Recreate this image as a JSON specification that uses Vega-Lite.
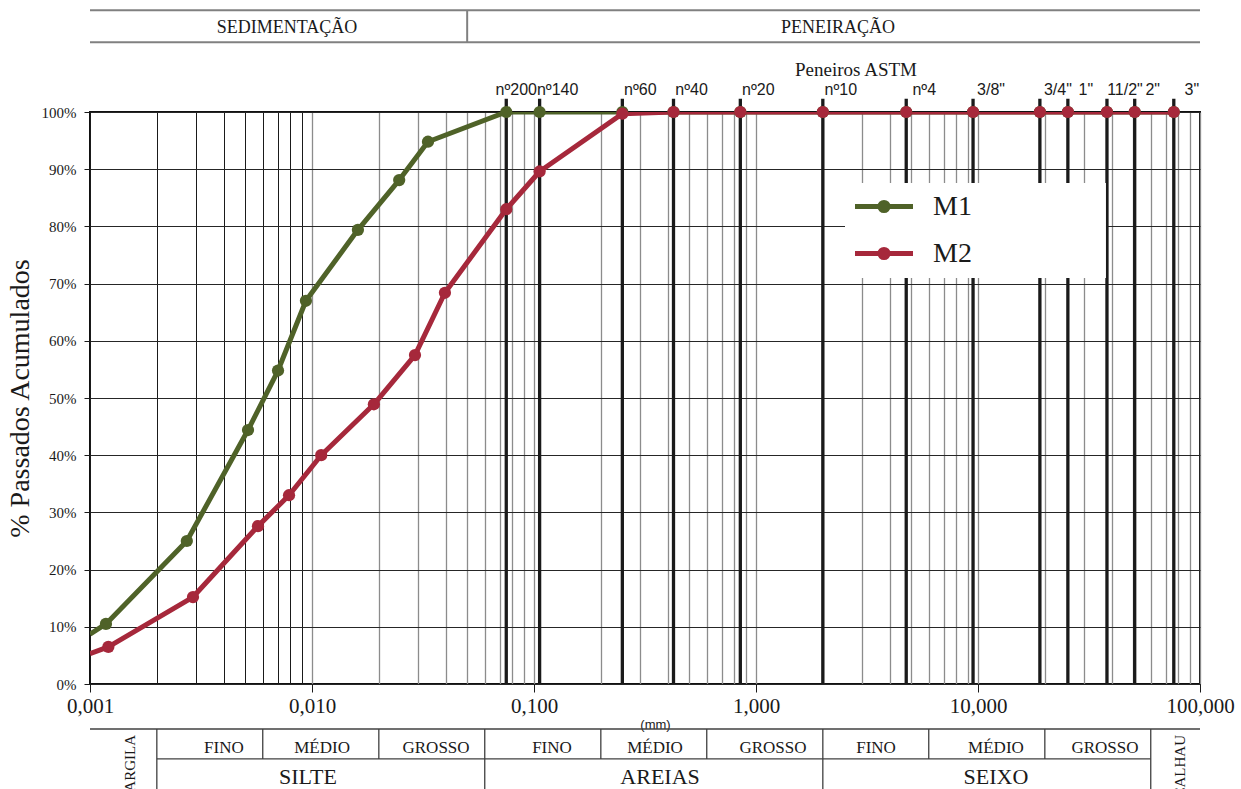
{
  "$schema": "https://vega.github.io/schema/vega-lite/v6.json",
  "width": 1110,
  "height": 572,
  "autosize": {"type": "none"},
  "padding": {"left": 90, "top": 112, "right": 41, "bottom": 105},
  "background": "white",
  "config": {
    "view": {"stroke": "#111111", "strokeWidth": 2},
    "font": "Liberation Serif"
  },
  "datasets": {
    "curvas": [
      {"amostra": "M1", "d": 0.001, "p": 8.7},
      {"amostra": "M1", "d": 0.00118, "p": 10.5},
      {"amostra": "M1", "d": 0.00273, "p": 25.0},
      {"amostra": "M1", "d": 0.00515, "p": 44.4},
      {"amostra": "M1", "d": 0.00703, "p": 54.8},
      {"amostra": "M1", "d": 0.00939, "p": 67.0},
      {"amostra": "M1", "d": 0.0161, "p": 79.4},
      {"amostra": "M1", "d": 0.0247, "p": 88.1},
      {"amostra": "M1", "d": 0.0333, "p": 94.8},
      {"amostra": "M1", "d": 0.075, "p": 100},
      {"amostra": "M1", "d": 0.106, "p": 100},
      {"amostra": "M1", "d": 0.25, "p": 100},
      {"amostra": "M1", "d": 0.425, "p": 100},
      {"amostra": "M1", "d": 0.85, "p": 100},
      {"amostra": "M1", "d": 2.0, "p": 100},
      {"amostra": "M1", "d": 4.75, "p": 100},
      {"amostra": "M1", "d": 9.5, "p": 100},
      {"amostra": "M1", "d": 19.0, "p": 100},
      {"amostra": "M1", "d": 25.4, "p": 100},
      {"amostra": "M1", "d": 38.1, "p": 100},
      {"amostra": "M1", "d": 50.8, "p": 100},
      {"amostra": "M1", "d": 76.2, "p": 100},
      {"amostra": "M2", "d": 0.001, "p": 5.3},
      {"amostra": "M2", "d": 0.00121, "p": 6.5},
      {"amostra": "M2", "d": 0.00291, "p": 15.2},
      {"amostra": "M2", "d": 0.00571, "p": 27.6},
      {"amostra": "M2", "d": 0.00788, "p": 33.0},
      {"amostra": "M2", "d": 0.0110, "p": 40.0},
      {"amostra": "M2", "d": 0.0190, "p": 48.9},
      {"amostra": "M2", "d": 0.0291, "p": 57.5},
      {"amostra": "M2", "d": 0.0397, "p": 68.4},
      {"amostra": "M2", "d": 0.075, "p": 83.0},
      {"amostra": "M2", "d": 0.106, "p": 89.6},
      {"amostra": "M2", "d": 0.25, "p": 99.7},
      {"amostra": "M2", "d": 0.425, "p": 100},
      {"amostra": "M2", "d": 0.85, "p": 100},
      {"amostra": "M2", "d": 2.0, "p": 100},
      {"amostra": "M2", "d": 4.75, "p": 100},
      {"amostra": "M2", "d": 9.5, "p": 100},
      {"amostra": "M2", "d": 19.0, "p": 100},
      {"amostra": "M2", "d": 25.4, "p": 100},
      {"amostra": "M2", "d": 38.1, "p": 100},
      {"amostra": "M2", "d": 50.8, "p": 100},
      {"amostra": "M2", "d": 76.2, "p": 100}
    ],
    "peneiros": [
      {"d": 0.075, "nome": "nº200"},
      {"d": 0.106, "nome": "nº140"},
      {"d": 0.25, "nome": "nº60"},
      {"d": 0.425, "nome": "nº40"},
      {"d": 0.85, "nome": "nº20"},
      {"d": 2.0, "nome": "nº10"},
      {"d": 4.75, "nome": "nº4"},
      {"d": 9.5, "nome": "3/8\""},
      {"d": 19.0, "nome": "3/4\""},
      {"d": 25.4, "nome": "1\""},
      {"d": 38.1, "nome": "11/2\""},
      {"d": 50.8, "nome": "2\""},
      {"d": 76.2, "nome": "3\""}
    ],
    "linhas": [
      {"g": "h", "d": 0.001, "d2": 100, "p": 117.8, "p2": 117.8},
      {"g": "h", "d": 0.001, "d2": 100, "p": 112.2, "p2": 112.2},
      {"g": "h", "d": 0.05, "d2": 0.05, "p": 112.2, "p2": 117.8},
      {"g": "t", "d": 0.001, "d2": 100, "p": -7.87, "p2": -7.87},
      {"g": "t", "d": 0.002, "d2": 60, "p": -13.1, "p2": -13.1},
      {"g": "t", "d": 0.002, "d2": 0.002, "p": -7.87, "p2": -25},
      {"g": "t", "d": 0.06, "d2": 0.06, "p": -7.87, "p2": -25},
      {"g": "t", "d": 2, "d2": 2, "p": -7.87, "p2": -25},
      {"g": "t", "d": 60, "d2": 60, "p": -7.87, "p2": -25},
      {"g": "t", "d": 0.006, "d2": 0.006, "p": -7.87, "p2": -13.1},
      {"g": "t", "d": 0.02, "d2": 0.02, "p": -7.87, "p2": -13.1},
      {"g": "t", "d": 0.2, "d2": 0.2, "p": -7.87, "p2": -13.1},
      {"g": "t", "d": 0.6, "d2": 0.6, "p": -7.87, "p2": -13.1},
      {"g": "t", "d": 6, "d2": 6, "p": -7.87, "p2": -13.1},
      {"g": "t", "d": 20, "d2": 20, "p": -7.87, "p2": -13.1}
    ],
    "rotulos": [
      {"grp": "cab", "txt": "SEDIMENTAÇÃO", "d": 0.00771, "p": 114.7},
      {"grp": "cab", "txt": "PENEIRAÇÃO", "d": 2.34, "p": 114.7},
      {"grp": "pen", "txt": "Peneiros ASTM", "d": 2.822, "p": 107.3},
      {"grp": "l1", "txt": "FINO", "d": 0.00401, "p": -11.19},
      {"grp": "l1", "txt": "MÉDIO", "d": 0.0111, "p": -11.19},
      {"grp": "l1", "txt": "GROSSO", "d": 0.0362, "p": -11.19},
      {"grp": "l1", "txt": "FINO", "d": 0.1205, "p": -11.19},
      {"grp": "l1", "txt": "MÉDIO", "d": 0.3508, "p": -11.19},
      {"grp": "l1", "txt": "GROSSO", "d": 1.193, "p": -11.19},
      {"grp": "l1", "txt": "FINO", "d": 3.472, "p": -11.19},
      {"grp": "l1", "txt": "MÉDIO", "d": 12.05, "p": -11.19},
      {"grp": "l1", "txt": "GROSSO", "d": 37.33, "p": -11.19},
      {"grp": "l2", "txt": "SILTE", "d": 0.00959, "p": -16.26},
      {"grp": "l2", "txt": "AREIAS", "d": 0.3696, "p": -16.26},
      {"grp": "l2", "txt": "SEIXO", "d": 12.05, "p": -16.26},
      {"grp": "rot", "txt": "ARGILA", "d": 0.00151, "p": -8.92},
      {"grp": "rot", "txt": "CALHAU", "d": 81.3, "p": -8.92}
    ],
    "caixa": [{"d": 2.517, "d2": 37.7, "p": 71.0, "p2": 87.6}]
  },
  "layer": [
    {
      "data": {"name": "peneiros"},
      "mark": {"type": "rule", "clip": false, "strokeWidth": 3.3, "color": "#1a1a1a"},
      "encoding": {
        "x": {"field": "d", "type": "quantitative", "scale": {"type": "log", "domain": [0.001, 100], "nice": false}},
        "y": {"datum": 0, "type": "quantitative", "scale": {"domain": [0, 100], "nice": false, "zero": false}},
        "y2": {"datum": 102.3}
      }
    },
    {
      "data": {"name": "caixa"},
      "mark": {"type": "rect", "fill": "white", "clip": false},
      "encoding": {
        "x": {"field": "d", "type": "quantitative", "scale": {"type": "log", "domain": [0.001, 100], "nice": false}},
        "x2": {"field": "d2"},
        "y": {"field": "p", "type": "quantitative", "scale": {"domain": [0, 100], "nice": false, "zero": false}},
        "y2": {"field": "p2"}
      }
    },
    {
      "data": {"name": "linhas"},
      "transform": [{"filter": "datum.g == 'h'"}],
      "mark": {"type": "rule", "clip": false, "strokeWidth": 2, "color": "#808080"},
      "encoding": {
        "x": {"field": "d", "type": "quantitative", "scale": {"type": "log", "domain": [0.001, 100], "nice": false}},
        "x2": {"field": "d2"},
        "y": {"field": "p", "type": "quantitative", "scale": {"domain": [0, 100], "nice": false, "zero": false}},
        "y2": {"field": "p2"}
      }
    },
    {
      "data": {"name": "linhas"},
      "transform": [{"filter": "datum.g == 't'"}],
      "mark": {"type": "rule", "clip": false, "strokeWidth": 1.3, "color": "#404040"},
      "encoding": {
        "x": {"field": "d", "type": "quantitative", "scale": {"type": "log", "domain": [0.001, 100], "nice": false}},
        "x2": {"field": "d2"},
        "y": {"field": "p", "type": "quantitative", "scale": {"domain": [0, 100], "nice": false, "zero": false}},
        "y2": {"field": "p2"}
      }
    },
    {
      "data": {"name": "rotulos"},
      "transform": [{"filter": "datum.grp == 'cab'"}],
      "mark": {"type": "text", "clip": false, "font": "Liberation Serif", "fontSize": 18, "baseline": "middle", "align": "center", "color": "#1a1a1a"},
      "encoding": {
        "x": {"field": "d", "type": "quantitative", "scale": {"type": "log", "domain": [0.001, 100], "nice": false}},
        "y": {"field": "p", "type": "quantitative", "scale": {"domain": [0, 100], "nice": false, "zero": false}},
        "text": {"field": "txt"}
      }
    },
    {
      "data": {"name": "rotulos"},
      "transform": [{"filter": "datum.grp == 'pen'"}],
      "mark": {"type": "text", "clip": false, "font": "Liberation Serif", "fontSize": 19, "baseline": "middle", "align": "center", "color": "#1a1a1a"},
      "encoding": {
        "x": {"field": "d", "type": "quantitative", "scale": {"type": "log", "domain": [0.001, 100], "nice": false}},
        "y": {"field": "p", "type": "quantitative", "scale": {"domain": [0, 100], "nice": false, "zero": false}},
        "text": {"field": "txt"}
      }
    },
    {
      "data": {"name": "rotulos"},
      "transform": [{"filter": "datum.grp == 'l1'"}],
      "mark": {"type": "text", "clip": false, "font": "Liberation Serif", "fontSize": 17, "baseline": "middle", "align": "center", "color": "#1a1a1a"},
      "encoding": {
        "x": {"field": "d", "type": "quantitative", "scale": {"type": "log", "domain": [0.001, 100], "nice": false}},
        "y": {"field": "p", "type": "quantitative", "scale": {"domain": [0, 100], "nice": false, "zero": false}},
        "text": {"field": "txt"}
      }
    },
    {
      "data": {"name": "rotulos"},
      "transform": [{"filter": "datum.grp == 'l2'"}],
      "mark": {"type": "text", "clip": false, "font": "Liberation Serif", "fontSize": 22, "baseline": "middle", "align": "center", "color": "#1a1a1a"},
      "encoding": {
        "x": {"field": "d", "type": "quantitative", "scale": {"type": "log", "domain": [0.001, 100], "nice": false}},
        "y": {"field": "p", "type": "quantitative", "scale": {"domain": [0, 100], "nice": false, "zero": false}},
        "text": {"field": "txt"}
      }
    },
    {
      "data": {"name": "rotulos"},
      "transform": [{"filter": "datum.grp == 'rot'"}],
      "mark": {"type": "text", "clip": false, "font": "Liberation Serif", "fontSize": 15, "baseline": "middle", "align": "right", "angle": 270, "color": "#1a1a1a"},
      "encoding": {
        "x": {"field": "d", "type": "quantitative", "scale": {"type": "log", "domain": [0.001, 100], "nice": false}},
        "y": {"field": "p", "type": "quantitative", "scale": {"domain": [0, 100], "nice": false, "zero": false}},
        "text": {"field": "txt"}
      }
    },
    {
      "data": {"name": "peneiros"},
      "transform": [{"filter": "datum.d == 0.075"}],
      "mark": {"type": "text", "clip": false, "font": "Liberation Sans", "fontSize": 16, "baseline": "middle", "align": "center", "dx": 10, "color": "#1a1a1a"},
      "encoding": {
        "x": {"field": "d", "type": "quantitative", "scale": {"type": "log", "domain": [0.001, 100], "nice": false}},
        "y": {"datum": 103.8, "type": "quantitative", "scale": {"domain": [0, 100], "nice": false, "zero": false}},
        "text": {"field": "nome"}
      }
    },
    {
      "data": {"name": "peneiros"},
      "transform": [{"filter": "datum.d != 0.075"}],
      "mark": {"type": "text", "clip": false, "font": "Liberation Sans", "fontSize": 16, "baseline": "middle", "align": "center", "dx": 18, "color": "#1a1a1a"},
      "encoding": {
        "x": {"field": "d", "type": "quantitative", "scale": {"type": "log", "domain": [0.001, 100], "nice": false}},
        "y": {"datum": 103.8, "type": "quantitative", "scale": {"domain": [0, 100], "nice": false, "zero": false}},
        "text": {"field": "nome"}
      }
    },
    {
      "data": {"name": "curvas"},
      "mark": {"type": "line", "strokeWidth": 5, "strokeJoin": "round", "clip": true},
      "encoding": {
        "x": {
          "field": "d",
          "type": "quantitative",
          "scale": {"type": "log", "domain": [0.001, 100], "nice": false},
          "axis": {
            "title": "(mm)",
            "titleFont": "Liberation Sans",
            "titleFontSize": 13,
            "titleFontWeight": "normal",
            "titleColor": "#1a1a1a",
            "titlePadding": 2,
            "titleX": 565,
            "values": [0.001, 0.002, 0.003, 0.004, 0.005, 0.006, 0.007, 0.008, 0.009, 0.01, 0.02, 0.03, 0.04, 0.05, 0.06, 0.07, 0.08, 0.09, 0.1, 0.2, 0.3, 0.4, 0.5, 0.6, 0.7, 0.8, 0.9, 1, 2, 3, 4, 5, 6, 7, 8, 9, 10, 20, 30, 40, 50, 60, 70, 80, 90, 100],
            "labelExpr": "abs(log(datum.value)/LN10 - round(log(datum.value)/LN10)) < 0.001 ? replace(format(datum.value, '.3f'), '.', ',') : ''",
            "labelFont": "Liberation Serif",
            "labelFontSize": 21,
            "labelColor": "#1a1a1a",
            "labelPadding": 3,
            "labelOverlap": false,
            "labelFlush": false,
            "labelBound": false,
            "tickSize": 8,
            "tickColor": "#1a1a1a",
            "tickOpacity": {"condition": {"test": "abs(log(datum.value)/LN10 - round(log(datum.value)/LN10)) < 0.001", "value": 1}, "value": 0},
            "domain": false,
            "grid": true,
            "gridColor": {"condition": {"test": "datum.value < 0.0095", "value": "#1a1a1a"}, "value": "#8c8c8c"},
            "gridWidth": {"condition": {"test": "datum.value < 0.0095", "value": 1}, "value": 1.3}
          }
        },
        "y": {
          "field": "p",
          "type": "quantitative",
          "scale": {"domain": [0, 100], "nice": false, "zero": false},
          "axis": {
            "title": "% Passados Acumulados",
            "titleFont": "Liberation Serif",
            "titleFontSize": 28,
            "titleFontWeight": "normal",
            "titleColor": "#1a1a1a",
            "titlePadding": 7,
            "values": [0, 10, 20, 30, 40, 50, 60, 70, 80, 90, 100],
            "labelExpr": "datum.value + '%'",
            "labelFont": "Liberation Serif",
            "labelFontSize": 15,
            "labelColor": "#1a1a1a",
            "labelPadding": 8,
            "tickSize": 6,
            "tickColor": "#1a1a1a",
            "domain": false,
            "grid": true,
            "gridColor": "#262626",
            "gridWidth": 1
          }
        },
        "color": {
          "field": "amostra",
          "type": "nominal",
          "scale": {"domain": ["M1", "M2"], "range": ["#4f6228", "#a6283b"]},
          "legend": {
            "orient": "none",
            "legendX": 777,
            "legendY": 77.5,
            "title": null,
            "padding": 0,
            "symbolType": "M-2,0L2,0M0.28,0A0.28,0.28,0,1,1,-0.28,0A0.28,0.28,0,1,1,0.28,0Z",
            "symbolSize": 841,
            "symbolStrokeWidth": 5,
            "labelFont": "Liberation Serif",
            "labelFontSize": 28,
            "labelColor": "#1a1a1a",
            "labelOffset": 32,
            "rowPadding": 15,
            "labelLimit": 300,
            "encode": {
              "symbols": {"update": {"fill": {"scale": "color", "field": "value"}, "stroke": {"scale": "color", "field": "value"}, "opacity": {"value": 1}}}
            }
          }
        },
        "order": {"field": "d", "type": "quantitative"}
      }
    },
    {
      "data": {"name": "curvas"},
      "transform": [{"filter": "datum.d > 0.0011"}],
      "mark": {"type": "point", "filled": true, "size": 150, "opacity": 1},
      "encoding": {
        "x": {"field": "d", "type": "quantitative", "scale": {"type": "log", "domain": [0.001, 100], "nice": false}},
        "y": {"field": "p", "type": "quantitative", "scale": {"domain": [0, 100], "nice": false, "zero": false}},
        "color": {"field": "amostra", "type": "nominal", "scale": {"domain": ["M1", "M2"], "range": ["#4f6228", "#a6283b"]}, "legend": null}
      }
    }
  ]
}
